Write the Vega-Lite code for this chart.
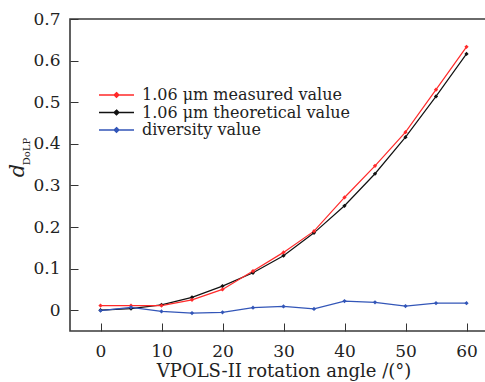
{
  "$schema": "https://vega.github.io/schema/vega-lite/v6.json",
  "width": 427,
  "height": 312,
  "autosize": {"type": "none"},
  "padding": {"left": 70, "top": 19, "right": 0, "bottom": 51},
  "background": "white",
  "config": {
    "font": "DejaVu Serif",
    "view": {"stroke": "#3a3a3a", "strokeWidth": 1.6},
    "axis": {"grid": false, "domain": false, "tickColor": "#333", "labelColor": "#222", "titleColor": "#222", "labelFont": "DejaVu Serif", "titleFont": "DejaVu Serif", "titleFontWeight": "normal"},
    "legend": {"labelFont": "DejaVu Serif"}
  },
  "data": {
    "values": [
      {"angle": 0, "series": "1.06 μm theoretical value", "v": 0.0},
      {"angle": 5, "series": "1.06 μm theoretical value", "v": 0.004},
      {"angle": 10, "series": "1.06 μm theoretical value", "v": 0.013},
      {"angle": 15, "series": "1.06 μm theoretical value", "v": 0.031},
      {"angle": 20, "series": "1.06 μm theoretical value", "v": 0.058},
      {"angle": 25, "series": "1.06 μm theoretical value", "v": 0.09},
      {"angle": 30, "series": "1.06 μm theoretical value", "v": 0.131},
      {"angle": 35, "series": "1.06 μm theoretical value", "v": 0.186},
      {"angle": 40, "series": "1.06 μm theoretical value", "v": 0.251},
      {"angle": 45, "series": "1.06 μm theoretical value", "v": 0.328},
      {"angle": 50, "series": "1.06 μm theoretical value", "v": 0.416},
      {"angle": 55, "series": "1.06 μm theoretical value", "v": 0.514},
      {"angle": 60, "series": "1.06 μm theoretical value", "v": 0.616},
      {"angle": 0, "series": "1.06 μm measured value", "v": 0.011},
      {"angle": 5, "series": "1.06 μm measured value", "v": 0.011},
      {"angle": 10, "series": "1.06 μm measured value", "v": 0.011},
      {"angle": 15, "series": "1.06 μm measured value", "v": 0.025},
      {"angle": 20, "series": "1.06 μm measured value", "v": 0.05},
      {"angle": 25, "series": "1.06 μm measured value", "v": 0.094},
      {"angle": 30, "series": "1.06 μm measured value", "v": 0.139},
      {"angle": 35, "series": "1.06 μm measured value", "v": 0.19},
      {"angle": 40, "series": "1.06 μm measured value", "v": 0.271},
      {"angle": 45, "series": "1.06 μm measured value", "v": 0.347},
      {"angle": 50, "series": "1.06 μm measured value", "v": 0.428},
      {"angle": 55, "series": "1.06 μm measured value", "v": 0.53},
      {"angle": 60, "series": "1.06 μm measured value", "v": 0.633},
      {"angle": 0, "series": "diversity value", "v": -0.001},
      {"angle": 5, "series": "diversity value", "v": 0.007},
      {"angle": 10, "series": "diversity value", "v": -0.003},
      {"angle": 15, "series": "diversity value", "v": -0.007},
      {"angle": 20, "series": "diversity value", "v": -0.005},
      {"angle": 25, "series": "diversity value", "v": 0.006},
      {"angle": 30, "series": "diversity value", "v": 0.009},
      {"angle": 35, "series": "diversity value", "v": 0.003},
      {"angle": 40, "series": "diversity value", "v": 0.022},
      {"angle": 45, "series": "diversity value", "v": 0.019},
      {"angle": 50, "series": "diversity value", "v": 0.01},
      {"angle": 55, "series": "diversity value", "v": 0.017},
      {"angle": 60, "series": "diversity value", "v": 0.017}
    ]
  },
  "encoding": {
    "x": {
      "field": "angle", "type": "quantitative",
      "scale": {"domain": [-5, 65], "nice": false, "zero": false},
      "axis": {"values": [0, 10, 20, 30, 40, 50, 60], "tickSize": -8, "labelFontSize": 17, "labelPadding": 20, "title": "VPOLS-II rotation angle /(°)", "titleFontSize": 18, "titlePadding": 3, "labelFlush": false}
    },
    "color": {
      "field": "series", "type": "nominal",
      "scale": {"domain": ["1.06 μm measured value", "1.06 μm theoretical value", "diversity value"], "range": ["#ff2a2a", "#111111", "#3356b8"]},
      "legend": {
        "orient": "none", "legendX": 38.5, "legendY": 68, "padding": 0, "title": null,
        "symbolType": "M-5,0L5,0M0,-0.7L0.7,0L0,0.7L-0.7,0Z",
        "symbolSize": 49, "symbolStrokeWidth": 1.3, "labelOffset": 17.5,
        "labelFontSize": 16, "labelColor": "#222", "rowPadding": 1.5, "labelLimit": 400,
        "encode": {"symbols": {"update": {"fill": {"scale": "color", "field": "value"}}}}
      }
    }
  },
  "layer": [
    {
      "mark": {"type": "line", "strokeWidth": 1.2},
      "encoding": {
        "y": {
          "field": "v", "type": "quantitative",
          "scale": {"domain": [-0.05, 0.7], "nice": false, "zero": false},
          "axis": {"orient": "left", "values": [0, 0.1, 0.2, 0.3, 0.4, 0.5, 0.6, 0.7], "format": ".1~f", "tickSize": -8, "labelFontSize": 17, "labelPadding": 18, "title": "d", "titleFontSize": 21, "titleFontStyle": "italic", "titleAngle": -90, "titleAlign": "center", "titleBaseline": "middle", "titleX": -52.5, "titleY": 151, "labelFlush": false}
        }
      }
    },
    {
      "mark": {"type": "point", "shape": "diamond", "filled": true, "size": 18, "opacity": 1},
      "encoding": {
        "y": {
          "field": "v", "type": "quantitative",
          "scale": {"domain": [-0.05, 0.7], "nice": false, "zero": false},
          "axis": {"orient": "left", "labels": false, "ticks": false, "title": "DoLP", "titleFontSize": 10, "titleAngle": -90, "titleAlign": "center", "titleBaseline": "middle", "titleX": -43.5, "titleY": 132}
        }
      }
    }
  ],
  "resolve": {"axis": {"y": "independent"}}
}
